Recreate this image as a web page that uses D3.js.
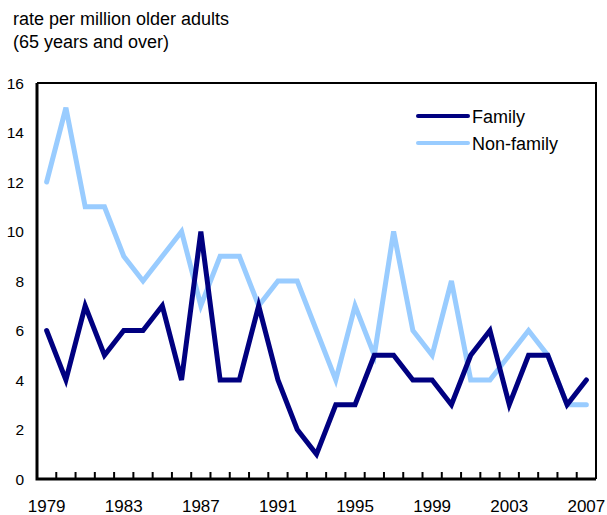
<!doctype html>
<html>
<head>
  <script src="https://cdnjs.cloudflare.com/ajax/libs/d3/7.8.5/d3.min.js"></script>
  <style>
    body { margin: 0; background: #fff; }
    svg { font-family: "Liberation Sans", Arial, Helvetica, sans-serif; }
  </style>
</head>
<body>
  <svg id="chart" width="607" height="515"></svg>
<script>
  var years = d3.range(1979, 2008);
  var family = [6, 4, 7, 5, 6, 6, 7, 4, 10, 4, 4, 7, 4, 2, 1, 3, 3, 5, 5, 4, 4, 3, 5, 6, 3, 5, 5, 3, 4];
  var nonFamily = [12, 15, 11, 11, 9, 8, 9, 10, 7, 9, 9, 7, 8, 8, 6, 4, 7, 5, 10, 6, 5, 8, 4, 4, 5, 6, 5, 3, 3];
  var yTicks = [0, 2, 4, 6, 8, 10, 12, 14, 16];
  var xLabels = [1979, 1983, 1987, 1991, 1995, 1999, 2003, 2007];
  var series = [
    {name: "Family", values: family, color: "#000080"},
    {name: "Non-family", values: nonFamily, color: "#99ccff"}
  ];

  // plot box (note: "top" is reserved on window, so use plotTop etc.)
  var plotLeft = 37, plotRight = 596, plotTop = 83, plotBottom = 479;
  var svg = d3.select("#chart");

  var x = d3.scaleBand().domain(years).range([plotLeft, plotRight]);
  var y = d3.scaleLinear().domain([0, 16]).range([plotBottom, plotTop]);

  // title
  svg.append("text").attr("x", 13).attr("y", 25).attr("font-size", 18)
    .text("rate per million older adults");
  svg.append("text").attr("x", 13).attr("y", 48).attr("font-size", 18)
    .text("(65 years and over)");

  // y labels
  svg.selectAll(".ylab").data(yTicks).enter().append("text")
    .attr("x", 24).attr("y", function(d) { return y(d); })
    .attr("dy", "0.36em").attr("text-anchor", "end").attr("font-size", 15.5)
    .text(function(d) { return d; });

  // x tick marks at band boundaries
  svg.selectAll(".xtick").data(years.slice(1)).enter().append("line")
    .attr("x1", function(d) { return x(d); }).attr("x2", function(d) { return x(d); })
    .attr("y1", plotBottom).attr("y2", plotBottom - 7)
    .attr("stroke", "#000").attr("stroke-width", 2);

  svg.selectAll(".xlab").data(xLabels).enter().append("text")
    .attr("x", function(d) { return x(d) + x.bandwidth() / 2; })
    .attr("y", 512).attr("text-anchor", "middle").attr("font-size", 17)
    .text(function(d) { return d; });

  // frame
  svg.append("path")
    .attr("d", "M" + plotLeft + "," + plotTop + "H" + plotRight + "V" + plotBottom)
    .attr("fill", "none").attr("stroke", "#000").attr("stroke-width", 2);
  svg.append("path")
    .attr("d", "M" + plotLeft + "," + plotTop + "V" + plotBottom + "H" + plotRight)
    .attr("fill", "none").attr("stroke", "#000").attr("stroke-width", 3);

  var line = d3.line()
    .x(function(d, i) { return x(years[i]) + x.bandwidth() / 2; })
    .y(function(d) { return y(d); });

  // non-family drawn first, family on top
  [series[1], series[0]].forEach(function(s) {
    svg.append("path").datum(s.values)
      .attr("d", line).attr("fill", "none")
      .attr("stroke", s.color).attr("stroke-width", 5)
      .attr("stroke-linejoin", "miter").attr("stroke-linecap", "round");
  });

  // legend
  var leg = svg.append("g");
  series.forEach(function(s, i) {
    var ly = 116 + i * 27;
    leg.append("line").attr("x1", 418).attr("x2", 468).attr("y1", ly).attr("y2", ly)
      .attr("stroke", s.color).attr("stroke-width", 4).attr("stroke-linecap", "round");
    leg.append("text").attr("x", 472).attr("y", ly + 1).attr("dy", "0.35em")
      .attr("font-size", 18).text(s.name);
  });
</script>
</body>
</html>
